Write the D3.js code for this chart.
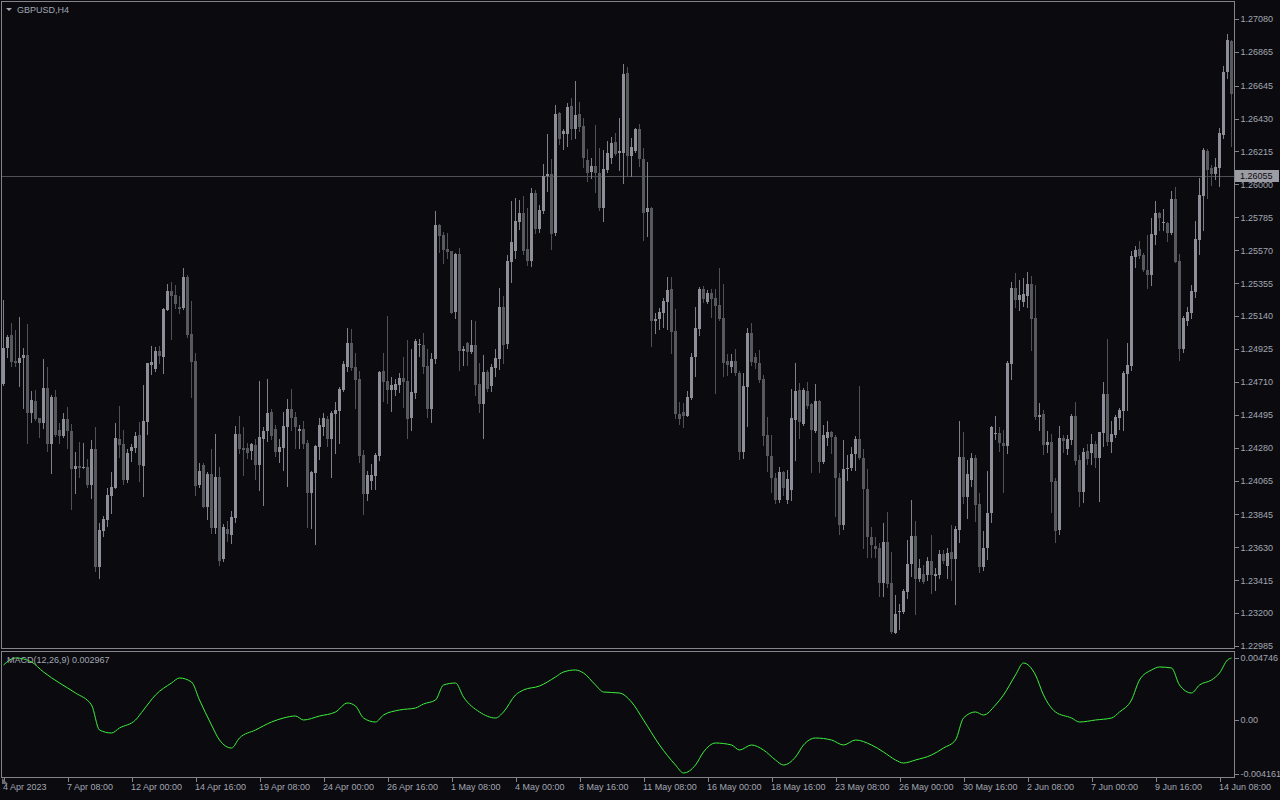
<!DOCTYPE html>
<html><head><meta charset="utf-8">
<script src="https://cdn.jsdelivr.net/npm/d3@7"></script>
<style>
html,body{margin:0;padding:0;background:#0b0b0f;}
svg{display:block;}
text{font-family:"Liberation Sans",Arial,sans-serif;font-size:9px;fill:#a2a6b2;}
</style></head><body>
<svg id="c" width="1280" height="800"></svg>
<script>
const symbolLabel = "GBPUSD,H4";
const macdTitle = "MACD(12,26,9) 0.002967";
const lastPrice = 1.26055;
const timeLabels = ["4 Apr 2023","7 Apr 08:00","12 Apr 00:00","14 Apr 16:00","19 Apr 08:00","24 Apr 00:00","26 Apr 16:00","1 May 08:00","4 May 00:00","8 May 16:00","11 May 08:00","16 May 00:00","18 May 16:00","23 May 08:00","26 May 00:00","30 May 16:00","2 Jun 08:00","7 Jun 00:00","9 Jun 16:00","14 Jun 08:00"];
const timeLabelBars = [0,16,32,48,64,80,96,112,128,144,160,176,192,208,224,240,256,272,288,304];
const priceTickLabels = ["1.27080","1.26865","1.26645","1.26430","1.26215","1.26000","1.25785","1.25570","1.25355","1.25140","1.24925","1.24710","1.24495","1.24280","1.24065","1.23845","1.23630","1.23415","1.23200","1.22985"];
const macdTickLabels = ["0.004746","0.00","-0.004161"];

const open = [1.24696,1.24929,1.25014,1.24846,1.24836,1.24868,1.24883,1.24509,1.24585,1.24472,
1.24444,1.24668,1.24302,1.24611,1.24396,1.24359,1.24465,1.24389,1.24143,1.24158,
1.24148,1.24154,1.24039,1.24272,1.23503,1.23738,1.23810,1.23967,1.24019,1.24337,
1.24304,1.24069,1.24259,1.24278,1.24363,1.24163,1.24450,1.24822,1.24792,1.24912,
1.24875,1.25182,1.25301,1.25275,1.25199,1.25190,1.25393,1.25023,1.24846,1.24037,
1.24167,1.23895,1.24108,1.23758,1.24089,1.23551,1.23749,1.23712,1.23823,1.24370,
1.24278,1.24278,1.24261,1.24296,1.24167,1.24339,1.24389,1.24513,1.24400,1.24252,
1.24278,1.24417,1.24533,1.24481,1.24391,1.24402,1.24311,1.23984,1.24117,1.24287,
1.24417,1.24468,1.24337,1.24500,1.24522,1.24657,1.24807,1.24964,1.24807,1.24729,
1.24232,1.23980,1.24063,1.24097,1.24228,1.24781,1.24716,1.24659,1.24659,1.24692,
1.24735,1.24716,1.24474,1.24640,1.24949,1.24949,1.24814,1.24535,1.24862,1.25735,
1.25669,1.25578,1.25563,1.25166,1.25545,1.24914,1.24962,1.24907,1.24951,1.24696,
1.24568,1.24775,1.24683,1.24803,1.24862,1.25197,1.24958,1.25495,1.25565,1.25757,
1.25811,1.25576,1.25500,1.25944,1.25709,1.25828,1.26055,1.26066,1.25685,1.26466,
1.26331,1.26331,1.26512,1.26362,1.26460,1.26381,1.26159,1.26081,1.26120,1.26076,
1.25848,1.26096,1.26175,1.26275,1.26203,1.26207,1.26725,1.26185,1.26218,1.26359,
1.26165,1.25822,1.25843,1.25110,1.25121,1.25162,1.25234,1.25316,1.25042,1.24500,
1.24511,1.24489,1.24607,1.24875,1.25057,1.25316,1.25234,1.25290,1.25258,1.25212,
1.25129,1.24846,1.24809,1.24846,1.24770,1.24254,1.24679,1.25031,1.24875,1.24835,
1.24729,1.24363,1.24228,1.24082,1.23939,1.24121,1.23939,1.24004,1.24461,1.24657,
1.24435,1.24650,1.24563,1.24391,1.24585,1.24189,1.24341,1.24380,1.24352,1.24084,
1.23775,1.24139,1.24145,1.24239,1.24337,1.24215,1.24010,1.23699,1.23640,1.23623,
1.23394,1.23664,1.23399,1.23072,1.23207,1.23209,1.23340,1.23518,1.23703,1.23420,
1.23453,1.23449,1.23540,1.23444,1.23449,1.23586,1.23510,1.23597,1.23555,1.23743,
1.24219,1.23960,1.24069,1.24215,1.23915,1.23503,1.23627,1.23851,1.24367,1.24378,
1.24313,1.24293,1.24830,1.25320,1.25242,1.25232,1.25274,1.25352,1.25127,1.24480,
1.24502,1.24296,1.24316,1.24062,1.23742,1.24345,1.24274,1.24330,1.24486,1.24199,
1.23990,1.24259,1.24248,1.24303,1.24215,1.24376,1.24630,1.24319,1.24365,1.24475,
1.24522,1.24760,1.24811,1.25528,1.25577,1.25539,1.25440,1.25407,1.25672,1.25811,
1.25747,1.25749,1.25683,1.25904,1.25500,1.24926,1.25109,1.25162,1.25297,1.25639,
1.25926,1.26217,1.26107,1.26069,1.26109,1.26323,1.26732,1.26937];

const high = [1.25245,1.25016,1.25092,1.25049,1.25132,1.24929,1.25086,1.24650,1.24657,1.24475,
1.24859,1.24805,1.24624,1.24657,1.24439,1.24505,1.24544,1.24435,1.24250,1.24317,
1.24313,1.24204,1.24330,1.24413,1.23786,1.23834,1.24019,1.24121,1.24439,1.24553,
1.24394,1.24272,1.24304,1.24385,1.24446,1.24690,1.24836,1.24944,1.24940,1.24944,
1.25195,1.25349,1.25360,1.25343,1.25271,1.25452,1.25408,1.25240,1.24901,1.24178,
1.24182,1.24120,1.24272,1.24370,1.24154,1.23780,1.23801,1.23867,1.24422,1.24487,
1.24415,1.24313,1.24313,1.24335,1.24716,1.24417,1.24729,1.24533,1.24428,1.24337,
1.24515,1.24598,1.24663,1.24513,1.24428,1.24454,1.24333,1.24125,1.24298,1.24474,
1.24505,1.24489,1.24520,1.24579,1.24679,1.24849,1.25062,1.25055,1.24901,1.24781,
1.24265,1.24128,1.24174,1.24246,1.24778,1.24899,1.25140,1.24740,1.24729,1.24766,
1.24872,1.24983,1.24925,1.24988,1.24988,1.25027,1.24923,1.24897,1.25826,1.25741,
1.25687,1.25680,1.25567,1.25550,1.25582,1.24947,1.24973,1.25114,1.25108,1.24831,
1.24886,1.24788,1.24825,1.24923,1.25321,1.25271,1.25539,1.25891,1.25909,1.25898,
1.25924,1.25848,1.25979,1.25963,1.25865,1.26131,1.26329,1.26166,1.26518,1.26471,
1.26360,1.26529,1.26564,1.26675,1.26538,1.26431,1.26231,1.26170,1.26388,1.26235,
1.26225,1.26283,1.26312,1.26333,1.26431,1.26786,1.26768,1.26300,1.26366,1.26394,
1.26237,1.26148,1.25854,1.25158,1.25195,1.25260,1.25395,1.25395,1.25186,1.24581,
1.24570,1.24650,1.24896,1.25199,1.25332,1.25334,1.25310,1.25314,1.25316,1.25451,
1.25349,1.24892,1.24892,1.24922,1.24781,1.24770,1.25060,1.25092,1.24896,1.24918,
1.24755,1.24483,1.24363,1.24115,1.24154,1.24130,1.24134,1.24663,1.24835,1.24700,
1.24672,1.24709,1.24570,1.24696,1.24592,1.24428,1.24454,1.24386,1.24363,1.24117,
1.24330,1.24232,1.24283,1.24359,1.24683,1.24272,1.24141,1.23762,1.23699,1.23656,
1.23790,1.23860,1.23599,1.23318,1.23259,1.23355,1.23675,1.23939,1.23801,1.23551,
1.23514,1.23568,1.23710,1.23497,1.23610,1.23612,1.23627,1.23775,1.23771,1.24454,
1.24383,1.24200,1.24246,1.24232,1.23986,1.23738,1.24128,1.24424,1.24487,1.24413,
1.24396,1.24849,1.25360,1.25421,1.25375,1.25388,1.25429,1.25400,1.25345,1.24572,
1.24528,1.24391,1.24369,1.24082,1.24422,1.24365,1.24363,1.24502,1.24579,1.24232,
1.24281,1.24303,1.24369,1.24325,1.24385,1.24712,1.24992,1.24453,1.24495,1.24539,
1.24778,1.24965,1.25566,1.25595,1.25628,1.25551,1.25672,1.25782,1.25893,1.25820,
1.25840,1.25754,1.25959,1.25981,1.25546,1.25138,1.25197,1.25341,1.25760,1.26041,
1.26235,1.26231,1.26129,1.26169,1.26367,1.26771,1.26979,1.26941];

const low = [1.24690,1.24875,1.24814,1.24814,1.24683,1.24542,1.24313,1.24450,1.24461,1.24352,
1.24407,1.24261,1.24113,1.24357,1.24309,1.24352,1.24276,1.23878,1.23982,1.24091,
1.24145,1.24026,1.23954,1.23477,1.23427,1.23706,1.23771,1.23852,1.24015,1.24222,
1.24041,1.24058,1.24193,1.24254,1.24065,1.23967,1.24367,1.24764,1.24781,1.24836,
1.24766,1.25179,1.24988,1.25190,1.25158,1.25184,1.25005,1.24613,1.23973,1.24026,
1.23891,1.23817,1.23725,1.23725,1.23514,1.23540,1.23671,1.23660,1.23793,1.24243,
1.24102,1.24211,1.24206,1.24078,1.24004,1.23906,1.24326,1.24337,1.24228,1.24189,
1.24134,1.24032,1.24396,1.24280,1.24280,1.24280,1.23764,1.23758,1.23651,1.24208,
1.24363,1.24293,1.24091,1.24248,1.24313,1.24650,1.24783,1.24788,1.24542,1.24189,
1.23849,1.23936,1.24008,1.24010,1.24200,1.24585,1.24574,1.24522,1.24624,1.24646,
1.24548,1.24346,1.24396,1.24603,1.24879,1.24766,1.24483,1.24450,1.24831,1.25561,
1.25489,1.25517,1.25158,1.25130,1.24788,1.24820,1.24820,1.24897,1.24624,1.24516,
1.24341,1.24653,1.24653,1.24749,1.24794,1.24836,1.24934,1.25365,1.25521,1.25711,
1.25545,1.25474,1.25467,1.25680,1.25691,1.25811,1.25959,1.25578,1.25669,1.26264,
1.26233,1.26253,1.26296,1.26301,1.26351,1.26111,1.26024,1.26040,1.25952,1.25833,
1.25763,1.26083,1.26137,1.26192,1.26094,1.26011,1.26054,1.26054,1.26211,1.26120,
1.25636,1.25665,1.24946,1.25031,1.25055,1.25070,1.25053,1.24901,1.24472,1.24435,
1.24417,1.24487,1.24598,1.24750,1.25016,1.25229,1.25223,1.25131,1.24639,1.25114,
1.24748,1.24757,1.24777,1.24755,1.24204,1.24211,1.24424,1.24820,1.24798,1.24711,
1.24298,1.24130,1.23991,1.23919,1.23926,1.23971,1.23919,1.23939,1.24200,1.24346,
1.24428,1.24541,1.24123,1.24385,1.24123,1.24182,1.24298,1.24243,1.23836,1.23714,
1.23751,1.24069,1.24134,1.24134,1.24204,1.23623,1.23564,1.23564,1.23568,1.23312,
1.23312,1.23373,1.23072,1.23068,1.23094,1.23203,1.23296,1.23442,1.23194,1.23412,
1.23399,1.23416,1.23333,1.23351,1.23427,1.23525,1.23427,1.23416,1.23257,1.23666,
1.23917,1.23819,1.24032,1.23804,1.23466,1.23481,1.23551,1.23797,1.24335,1.24261,
1.23993,1.24243,1.24727,1.25199,1.25179,1.25206,1.25197,1.24915,1.24469,1.24396,
1.24241,1.24254,1.23861,1.23667,1.23718,1.24254,1.24241,1.24303,1.24175,1.23901,
1.23928,1.24171,1.24175,1.24155,1.23934,1.24292,1.24296,1.24254,1.24352,1.24402,
1.24398,1.24524,1.24789,1.25462,1.25522,1.25433,1.25325,1.25345,1.25612,1.25705,
1.25705,1.25632,1.25676,1.25491,1.24855,1.24904,1.25080,1.25127,1.25263,1.25546,
1.25705,1.25910,1.25999,1.26036,1.25992,1.26306,1.26696,1.26253];

const close = [1.24929,1.25001,1.24842,1.24836,1.24866,1.24883,1.24509,1.24592,1.24468,1.24444,
1.24668,1.24302,1.24611,1.24363,1.24359,1.24465,1.24389,1.24143,1.24158,1.24150,
1.24154,1.24034,1.24272,1.23499,1.23743,1.23815,1.23971,1.24021,1.24341,1.24298,
1.24069,1.24246,1.24283,1.24357,1.24169,1.24455,1.24831,1.24838,1.24912,1.24879,
1.25186,1.25301,1.25273,1.25221,1.25188,1.25393,1.25018,1.24842,1.24030,1.24128,
1.23895,1.24106,1.23758,1.24089,1.23542,1.23762,1.23714,1.23828,1.24370,1.24274,
1.24267,1.24243,1.24304,1.24169,1.24350,1.24389,1.24507,1.24359,1.24252,1.24285,
1.24422,1.24533,1.24476,1.24417,1.24402,1.24304,1.23984,1.24121,1.24291,1.24428,
1.24474,1.24337,1.24507,1.24526,1.24663,1.24827,1.24964,1.24801,1.24724,1.24228,
1.23980,1.24102,1.24102,1.24232,1.24775,1.24711,1.24659,1.24690,1.24696,1.24735,
1.24709,1.24470,1.24644,1.24977,1.24958,1.24810,1.24535,1.24860,1.25735,1.25665,
1.25571,1.25558,1.25162,1.25545,1.24912,1.24925,1.24907,1.24951,1.24690,1.24568,
1.24775,1.24661,1.24807,1.24866,1.25197,1.24951,1.25500,1.25624,1.25761,1.25811,
1.25565,1.25500,1.25944,1.25709,1.25833,1.26055,1.26066,1.25678,1.26462,1.26296,
1.26349,1.26505,1.26362,1.26453,1.26377,1.26175,1.26076,1.26120,1.26072,1.25848,
1.26100,1.26203,1.26268,1.26198,1.26218,1.26721,1.26185,1.26242,1.26359,1.26163,
1.25815,1.25843,1.25110,1.25121,1.25166,1.25238,1.25310,1.25038,1.24500,1.24467,
1.24489,1.24611,1.24872,1.25062,1.25316,1.25249,1.25290,1.25253,1.25205,1.25123,
1.24835,1.24820,1.24846,1.24766,1.24254,1.24683,1.25031,1.24842,1.24831,1.24722,
1.24359,1.24228,1.24082,1.23939,1.24121,1.24017,1.24076,1.24474,1.24652,1.24450,
1.24657,1.24552,1.24396,1.24585,1.24189,1.24363,1.24380,1.24348,1.24080,1.23773,
1.24139,1.24150,1.24239,1.24337,1.24211,1.24008,1.23699,1.23645,1.23619,1.23394,
1.23664,1.23390,1.23079,1.23194,1.23216,1.23344,1.23521,1.23703,1.23420,1.23497,
1.23405,1.23540,1.23449,1.23455,1.23586,1.23542,1.23595,1.23555,1.23751,1.24219,
1.23960,1.24108,1.24215,1.23906,1.23503,1.23627,1.23856,1.24417,1.24378,1.24313,
1.24293,1.24835,1.25320,1.25242,1.25277,1.25284,1.25352,1.25120,1.24480,1.24493,
1.24296,1.24316,1.24056,1.23736,1.24343,1.24325,1.24336,1.24486,1.24193,1.23990,
1.24252,1.24204,1.24303,1.24215,1.24380,1.24630,1.24319,1.24369,1.24480,1.24528,
1.24767,1.24822,1.25533,1.25570,1.25533,1.25440,1.25407,1.25676,1.25811,1.25782,
1.25756,1.25683,1.25904,1.25495,1.24926,1.25127,1.25166,1.25303,1.25643,1.25930,
1.26224,1.26096,1.26069,1.26114,1.26334,1.26734,1.26944,1.26593];

const macdBars = [0,3,7,10,14,18,22,24,27,29,33,35,38,42,44,47,49,52,54,57,59,63,67,70,73,75,79,83,86,88,90,93,95,99,103,105,108,110,113,115,119,123,125,128,130,134,138,140,143,145,148,150,154,157,160,164,168,170,173,175,178,182,184,187,190,193,195,198,200,203,207,210,213,217,220,223,225,228,232,235,238,240,243,245,248,250,253,255,258,260,263,267,269,273,277,279,282,284,287,289,292,294,297,299,302,304,306,307];
const macdValues = [0.004206,0.004746,0.004438,0.003666,0.002818,0.002047,0.001122,-0.000807,-0.001038,-0.000652,-0.000035,0.000736,0.001893,0.002818,0.003204,0.002895,0.001507,-0.000421,-0.001578,-0.002195,-0.001424,-0.000807,-0.000190,0.000119,0.000273,-0.000035,0.000273,0.000582,0.001276,0.001045,0.000119,-0.000190,0.000350,0.000736,0.000890,0.001199,0.001507,0.002664,0.002818,0.001738,0.000582,0.000119,0.000582,0.001893,0.002278,0.002587,0.003281,0.003666,0.003821,0.003589,0.002664,0.002124,0.002047,0.001353,-0.000035,-0.001963,-0.003506,-0.004121,-0.003506,-0.002503,-0.001809,-0.001963,-0.002349,-0.001963,-0.002349,-0.003120,-0.003506,-0.002889,-0.001963,-0.001424,-0.001578,-0.001963,-0.001578,-0.001963,-0.002503,-0.003120,-0.003352,-0.003120,-0.002735,-0.002195,-0.001578,0.000119,0.000582,0.000350,0.001122,0.001893,0.003435,0.004360,0.003435,0.001893,0.000582,0.000119,-0.000190,-0.000035,0.000119,0.000582,0.001507,0.003050,0.003821,0.004052,0.003975,0.002664,0.002047,0.002664,0.003050,0.003589,0.004592,0.004746];

// ---------- styling ----------
const COL = {bg:"#0b0b0f", frame:"#84848c", text:"#a2a6b2", bull:"#8e8e98", bear:"#58585f",
  bullWick:"#80808a", bearWick:"#505057", macd:"#3cf03c", priceLine:"#4e5058", priceBox:"#9c9ca4"};

const svg = d3.select("#c");
svg.append("rect").attr("width",1280).attr("height",800).attr("fill",COL.bg);

const x = d3.scaleLinear().domain([0, 307]).range([3, 1231]);
const y = d3.scaleLinear().domain([1.22985, 1.27080]).range([646, 19]);
const ym = d3.scaleLinear().domain([-0.004161, 0.004746]).range([773.5, 658]);

const defs = svg.append("defs");
defs.append("clipPath").attr("id","mainClip").append("rect").attr("x",2).attr("y",2).attr("width",1232).attr("height",646);
defs.append("clipPath").attr("id","macdClip").append("rect").attr("x",2).attr("y",652).attr("width",1232).attr("height",125);

// price line
svg.append("line").attr("x1",2).attr("x2",1234).attr("y1",Math.round(y(lastPrice))+0.5).attr("y2",Math.round(y(lastPrice))+0.5)
  .attr("stroke",COL.priceLine).attr("stroke-width",1);

// candles
const data = open.map((o,i)=>({i, o, h:high[i], l:low[i], c:close[i]}));
const cg = svg.append("g").attr("clip-path","url(#mainClip)").attr("shape-rendering","crispEdges");
cg.selectAll("rect.w").data(data).join("rect").attr("class","w")
  .attr("x", d=>Math.round(x(d.i)))
  .attr("width",1)
  .attr("y", d=>Math.round(y(d.h)))
  .attr("height", d=>Math.max(1, Math.round(y(d.l)) - Math.round(y(d.h)) + 1))
  .attr("fill", d=> d.c>=d.o ? COL.bullWick : COL.bearWick);
cg.selectAll("rect.b").data(data).join("rect").attr("class","b")
  .attr("x", d=>Math.round(x(d.i))-1)
  .attr("width",3)
  .attr("y", d=>Math.round(y(Math.max(d.o,d.c))))
  .attr("height", d=>Math.max(1, Math.round(y(Math.min(d.o,d.c))) - Math.round(y(Math.max(d.o,d.c)))))
  .attr("fill", d=> d.c>=d.o ? COL.bull : COL.bear);

// MACD line
const mline = d3.line().curve(d3.curveMonotoneX).x((d,i)=>x(macdBars[i])+0.5).y(d=>ym(d));
svg.append("path").attr("clip-path","url(#macdClip)").datum(macdValues).attr("d", mline)
  .attr("fill","none").attr("stroke",COL.macd).attr("stroke-width",1);

// frames
const fr = svg.append("g").attr("fill","none").attr("stroke",COL.frame).attr("shape-rendering","crispEdges");
fr.append("rect").attr("x",1.5).attr("y",1.5).attr("width",1233).attr("height",647);
fr.append("rect").attr("x",1.5).attr("y",651.5).attr("width",1233).attr("height",126);

// price axis
const pAxis = d3.axisRight(y).tickValues(priceTickLabels.map(Number)).tickFormat((d,i)=>priceTickLabels[i]).tickSize(4).tickPadding(2);
const pa = svg.append("g").attr("transform","translate(1234.5,0)").call(pAxis);
pa.select(".domain").remove();
pa.selectAll(".tick line").attr("stroke",COL.frame).attr("shape-rendering","crispEdges");
pa.selectAll(".tick text").attr("fill",COL.text).style("font-family",'"Liberation Sans",Arial,sans-serif').style("font-size","9px");

// last price label box
const ly = Math.round(y(lastPrice));
svg.append("rect").attr("x",1235).attr("y",ly-6).attr("width",44).attr("height",12).attr("fill",COL.priceBox);
svg.append("text").attr("x",1240).attr("y",ly).attr("dy","0.34em").style("fill","#0b0b0f").text(lastPrice.toFixed(5));

// MACD axis
const mAxis = d3.axisRight(ym).tickValues(macdTickLabels.map(Number)).tickFormat((d,i)=>macdTickLabels[i]).tickSize(4).tickPadding(2);
const ma = svg.append("g").attr("transform","translate(1234.5,0)").call(mAxis);
ma.select(".domain").remove();
ma.selectAll(".tick line").attr("stroke",COL.frame).attr("shape-rendering","crispEdges");
ma.selectAll(".tick text").attr("fill",COL.text).style("font-family",'"Liberation Sans",Arial,sans-serif').style("font-size","9px");

// time axis
const tAxis = d3.axisBottom(x).tickValues(timeLabelBars).tickFormat((d,i)=>timeLabels[i]).tickSize(4).tickPadding(2);
const ta = svg.append("g").attr("transform","translate(0.5,777.5)").call(tAxis);
ta.select(".domain").remove();
ta.selectAll(".tick line").attr("stroke",COL.frame).attr("shape-rendering","crispEdges");
ta.selectAll(".tick text").attr("fill",COL.text).attr("text-anchor","start").attr("dx","-1")
  .style("font-family",'"Liberation Sans",Arial,sans-serif').style("font-size","9px");

// titles
svg.append("path").attr("d","M6,8 L12,8 L9,11 Z").attr("fill",COL.text);
svg.append("text").attr("x",17).attr("y",10).attr("dy","0.34em").text(symbolLabel);
svg.append("text").attr("x",7).attr("y",660).attr("dy","0.34em").text(macdTitle);
svg.append("path").attr("d","M2,778 L2,784 L8,784 Z").attr("fill","#6a6a72");
</script>
</body></html>
